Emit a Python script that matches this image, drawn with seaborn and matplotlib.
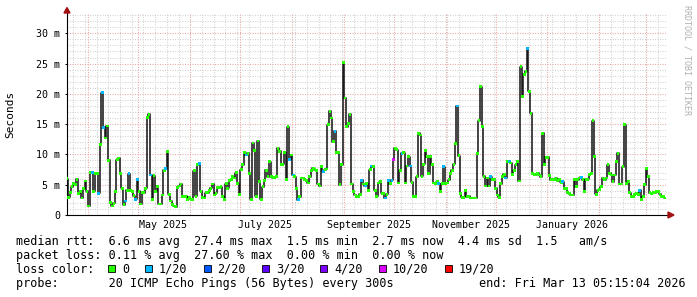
import numpy as np
import pandas as pd
import matplotlib
matplotlib.use("Agg")
import matplotlib.pyplot as plt
import matplotlib.dates as mdates
from matplotlib.patches import Rectangle, Polygon
from matplotlib.ticker import MultipleLocator, FixedLocator
import seaborn as sns

# ---------------- data (median RTT in ms) ----------------
rtt_mar_may = [6.0, 2.9, 3.7, 4.7, 5.2, 5.0, 5.9, 3.6, 3.9, 2.8, 4.4, 5.6, 3.9, 1.5, 7.0,
               7.0, 3.9, 6.8, 6.9, 3.6, 11.6, 20.2, 14.5, 12.7, 14.7, 9.0, 2.0, 1.5, 1.9, 3.9,
               9.1, 9.4, 6.8, 4.4, 1.7, 2.3, 4.1, 6.8, 4.1, 3.9, 3.2, 2.6, 5.8, 3.9, 1.8,
               3.7, 3.7, 4.4, 16.1, 16.6, 6.6, 2.5, 6.5, 3.9, 4.7, 1.8, 1.8, 3.3, 7.4]
loss_mar_may = {15: 1, 19: 1, 21: 1, 22: 1, 35: 1, 37: 1, 41: 1, 42: 1, 50: 1}

rtt_may_jul = [7.7, 10.5, 3.4, 2.3, 1.7, 1.5, 1.4, 4.5, 4.8, 5.1, 3.0, 3.0, 3.1, 2.6, 2.9,
               2.6, 2.6, 7.3, 3.1, 8.3, 8.5, 3.9, 2.9, 2.8, 3.7, 3.7, 4.1, 4.4, 5.1, 3.3,
               3.6, 4.6, 4.6, 4.7, 3.0, 2.5, 5.2, 4.4, 5.7, 5.8, 6.3, 6.1, 7.0, 5.2, 3.4,
               7.5, 8.3, 10.3, 9.9, 10.2, 6.8, 2.6, 11.9, 10.7, 3.1, 12.2, 5.5, 2.6, 4.7, 5.7]
loss_may_jul = {0: 1, 20: 1, 48: 1}

rtt_jul_sep = [7.4, 6.3, 8.8, 6.3, 6.1, 6.2, 6.4, 11.0, 10.5, 8.3, 8.4, 10.3, 5.8, 14.6, 9.2,
               9.9, 6.6, 6.3, 4.4, 2.5, 3.0, 6.1, 6.1, 5.8, 5.7, 5.3, 6.3, 7.3, 7.7, 7.5,
               7.4, 5.1, 4.8, 8.0, 7.2, 7.5, 7.6, 14.9, 17.1, 16.0, 12.1, 13.8, 10.3, 10.3, 5.0,
               8.3, 25.2, 19.3, 14.6, 15.1, 16.6, 5.1, 3.9, 3.3, 3.0, 3.0, 3.4, 5.7, 5.1, 4.8]
loss_jul_sep = {14: 1, 16: 1, 19: 1, 34: 1, 41: 1, 57: 1, 59: 1}

rtt_sep_nov = [5.2, 4.1, 7.5, 8.1, 8.0, 4.1, 3.1, 5.3, 5.5, 3.6, 3.5, 2.8, 3.4, 5.7, 5.2,
               5.7, 9.2, 11.0, 10.8, 5.3, 7.3, 10.2, 10.3, 5.3, 8.1, 9.6, 8.1, 5.4, 3.1, 3.1,
               6.3, 13.5, 13.2, 6.4, 8.4, 10.7, 9.6, 6.8, 9.7, 8.4, 5.3, 5.2, 5.5, 5.2, 3.9,
               5.2, 8.0, 5.2, 5.3, 5.8, 6.9, 7.4, 8.4, 11.8, 18.0, 9.8, 3.6, 2.9, 2.9, 4.1,
               3.1, 3.1]
loss_sep_nov = {3: 1, 11: 1, 13: 1, 15: 1, 16: 10, 21: 1, 26: 1, 43: 1, 46: 1, 54: 1}

rtt_nov_jan = [2.8, 2.8, 2.8, 2.8, 10.1, 15.6, 21.2, 14.6, 6.4, 4.8, 6.1, 4.8, 6.3, 5.8, 5.8,
               4.4, 3.3, 2.9, 5.2, 6.4, 6.7, 6.1, 8.8, 8.8, 8.6, 6.7, 7.3, 8.3, 8.8, 5.6,
               24.5, 19.6, 23.2, 23.7, 27.5, 20.4, 16.8, 6.8, 6.7, 6.6, 6.9, 6.6, 6.3, 13.5, 8.3,
               9.5, 9.5, 6.5, 5.8, 5.8, 5.8, 6.1, 5.7, 5.8, 5.4, 5.5, 4.4, 4.4, 3.7, 3.5,
               3.3]
loss_nov_jan = {12: 1, 21: 1, 23: 1, 34: 1, 55: 1}

rtt_jan_mar = [3.3, 5.8, 4.7, 5.8, 6.1, 6.2, 5.8, 3.9, 5.9, 5.9, 6.7, 6.8, 15.6, 9.7, 3.4,
               4.1, 4.2, 4.7, 6.1, 5.8, 6.1, 8.3, 6.9, 6.6, 5.5, 6.6, 8.8, 10.2, 5.1, 5.1,
               8.0, 14.9, 5.2, 5.5, 3.7, 3.1, 3.1, 3.4, 3.6, 3.4, 4.1, 2.6, 3.0, 5.0, 7.7,
               6.3, 3.7, 3.6, 3.7, 3.7, 3.9, 3.9, 3.4, 3.1, 3.1, 2.8]
loss_jan_mar = {5: 1, 40: 1}

loss_levels = [0, 1, 2, 3, 4, 10, 19]
loss_labels = ["0", "1/20", "2/20", "3/20", "4/20", "10/20", "19/20"]
loss_colors = ["#26ff00", "#00b8ff", "#0059ff", "#5e00ff", "#7e00ff", "#dd00ff", "#ff0000"]

month_labels = ["May 2025", "July 2025", "September 2025", "November 2025", "January 2026"]
month_label_dates = ["2025-05-16", "2025-07-16", "2025-09-16", "2025-11-16", "2026-01-16"]
y_ticks = [0, 5, 10, 15, 20, 25, 30]
y_tick_labels = ["0", "5 m", "10 m", "15 m", "20 m", "25 m", "30 m"]

line_rtt = "median rtt:  6.6 ms avg  27.4 ms max  1.5 ms min  2.7 ms now  4.4 ms sd  1.5   am/s"
line_loss = "packet loss: 0.11 % avg  27.60 % max  0.00 % min  0.00 % now"
line_probe = "probe:       20 ICMP Echo Pings (56 Bytes) every 300s"
line_end = "end: Fri Mar 13 05:15:04 2026"

# ---------------- assemble ----------------
segments = [(rtt_mar_may, loss_mar_may), (rtt_may_jul, loss_may_jul), (rtt_jul_sep, loss_jul_sep),
            (rtt_sep_nov, loss_sep_nov), (rtt_nov_jan, loss_nov_jan), (rtt_jan_mar, loss_jan_mar)]
rtt, loss = [], []
for vals, lmap in segments:
    for i, v in enumerate(vals):
        rtt.append(v)
        loss.append(lmap.get(i, 0))

dates = pd.date_range("2025-03-19 05:00", "2026-03-12 10:00", periods=len(rtt))
level_name = dict(zip(loss_levels, loss_labels))
df = pd.DataFrame({"time": dates, "rtt": rtt,
                   "loss": [level_name[l] for l in loss]})
palette = dict(zip(loss_labels, loss_colors))

# ---------------- figure ----------------
W, H = 697, 297
fig = plt.figure(figsize=(W / 100, H / 100), dpi=100)
fig.patch.set_facecolor("white")
ax = fig.add_axes([67 / W, 82 / H, 600 / W, 202 / H])
ax.set_facecolor("white")

mono = "DejaVu Sans Mono"
x_left = pd.Timestamp("2025-03-19 05:00")
x_right = pd.Timestamp("2026-03-13 15:00")
ax.set_xlim(x_left, x_right)
ax.set_ylim(0, 33.35)

grid_minor = "#d2d2d2"
grid_major = "#eaa8a8"
dot = (0, (1, 1.4))

# y grid
ax.yaxis.set_major_locator(FixedLocator(y_ticks))
ax.yaxis.set_minor_locator(MultipleLocator(1))
ax.set_yticklabels(y_tick_labels)
ax.grid(which="minor", axis="y", color=grid_minor, linestyle=dot, linewidth=0.75)
ax.grid(which="major", axis="y", color=grid_major, linestyle=dot, linewidth=0.75)

# x grid: weekly minor (gray) + monthly (red), labels mid-month
ax.xaxis.set_minor_locator(mdates.WeekdayLocator(byweekday=mdates.SU))
ax.grid(which="minor", axis="x", color=grid_minor, linestyle=dot, linewidth=0.75)
for d in pd.date_range("2025-04-01", "2026-03-01", freq="MS"):
    ax.axvline(d, color=grid_major, linestyle=dot, linewidth=0.75, zorder=0.6)
ax.set_xticks(pd.to_datetime(month_label_dates))
ax.set_xticklabels(month_labels)
ax.set_axisbelow(True)

ax.tick_params(axis="x", which="both", length=0, pad=3.3, labelsize=7.2)
ax.tick_params(axis="y", which="major", length=1.5, width=0.7, pad=3.6, labelsize=7.2)
ax.tick_params(axis="y", which="minor", length=0)
for lab in ax.get_xticklabels() + ax.get_yticklabels():
    lab.set_fontfamily(mono)

for s in ["top", "right"]:
    ax.spines[s].set_visible(False)
for s in ["left", "bottom"]:
    ax.spines[s].set_color("black")
    ax.spines[s].set_linewidth(0.8)

# data
sns.lineplot(data=df, x="time", y="rtt", ax=ax, color="#1a1a1a", linewidth=1.15,
             drawstyle="steps-mid", errorbar=None, zorder=2)
sns.scatterplot(data=df, x="time", y="rtt", hue="loss", palette=palette, ax=ax,
                marker="s", s=4.0, linewidth=0, legend=False, zorder=3)
ax.set_xlabel("")
ax.set_ylabel("")

# axis arrows
def px(x, y):
    return (x / W, 1 - y / H)

arrow_color = "#a01010"
fig.patches.append(Polygon([px(64, 13), px(70, 13), px(67, 7.5)], closed=True,
                           transform=fig.transFigure, color=arrow_color))
fig.patches.append(Polygon([px(668, 212), px(668, 218), px(674, 215)], closed=True,
                           transform=fig.transFigure, color=arrow_color))

# y label and watermark
fig.text(*px(10.7, 114), "Seconds", rotation=90, ha="center", va="center",
         fontsize=8, family=mono)
fig.text(*px(687, 5), "RRDTOOL / TOBI OETIKER", rotation=270, ha="center", va="top",
         fontsize=6, family=mono, color="#b0b0b0")

# legend / statistics
fs = 8.5
char_w = 7.13
fig.text(*px(16, 244.5), line_rtt, ha="left", va="baseline", fontsize=fs, family=mono)
fig.text(*px(16, 258.5), line_loss, ha="left", va="baseline", fontsize=fs, family=mono)
fig.text(*px(16, 272.7), "loss color:", ha="left", va="baseline", fontsize=fs, family=mono)
fig.text(*px(16, 286.7), line_probe, ha="left", va="baseline", fontsize=fs, family=mono)
fig.text(*px(479, 286.7), line_end, ha="left", va="baseline", fontsize=fs, family=mono)

bx = 108.0
for lab, col in zip(loss_labels, loss_colors):
    fig.patches.append(Rectangle(px(bx, 271.8), 7 / W, 7 / H, transform=fig.transFigure,
                                 facecolor=col, edgecolor="black", linewidth=0.6))
    fig.text(*px(bx + 14, 272.7), lab, ha="left", va="baseline", fontsize=fs, family=mono)
    bx += (len(lab) + 4.2) * char_w

fig.savefig("out.png", dpi=100, facecolor="white")
